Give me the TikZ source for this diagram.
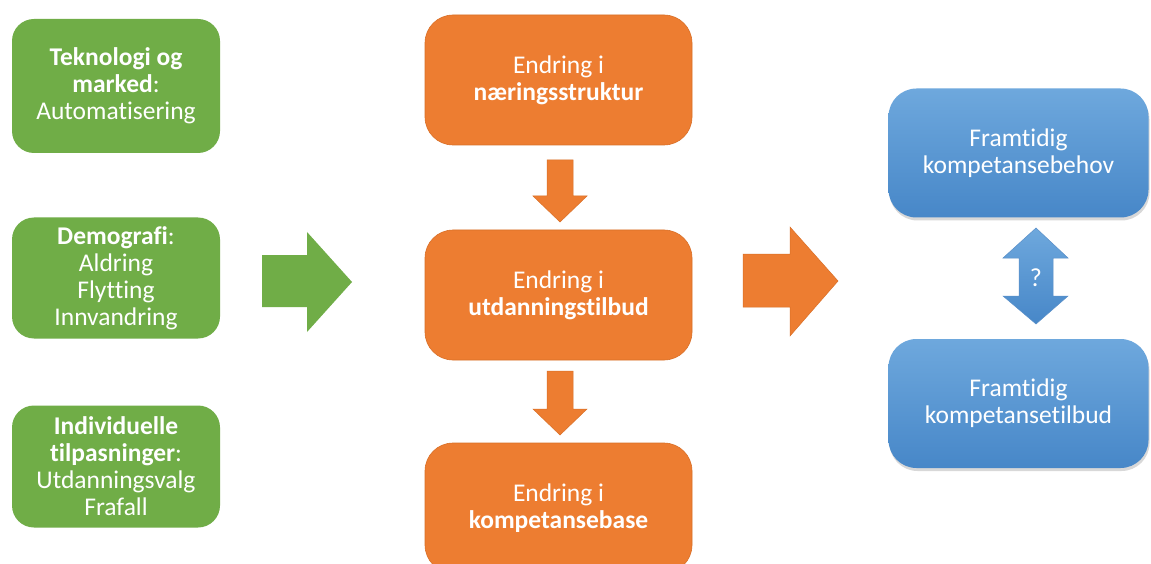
\documentclass[tikz,border=0pt]{standalone}
\usepackage{fontspec}
\setmainfont[Ligatures=CommonOff]{Carlito}
\usetikzlibrary{shadows}
\definecolor{grn}{HTML}{70AD47}
\definecolor{org}{HTML}{ED7D31}
\definecolor{orgd}{HTML}{D96F27}
\definecolor{bluet}{HTML}{6EA8DD}
\definecolor{blueb}{HTML}{4787C8}
\definecolor{blued}{HTML}{5A8FC8}
\begin{document}
\begin{tikzpicture}[x=1pt,y=-1pt,
  txt/.style={text=white, align=center, font=\fontsize{25.5}{27}\selectfont, inner sep=0pt},
  gbox/.style={txt, fill=grn, rounded corners=22pt, minimum width=208pt},
  obox/.style={txt, fill=org, draw=orgd, line width=0.6pt, rounded corners=28pt, minimum width=267pt, minimum height=130pt},
  bbox/.style={txt, top color=bluet, bottom color=blueb, rounded corners=28pt, minimum width=260pt, minimum height=129pt,
     drop shadow={shadow xshift=1pt, shadow yshift=-3pt, opacity=0.25, fill=black!60}},
  garrow/.style={fill=grn},
  oarrow/.style={fill=org, draw=orgd, line width=0.5pt},
  barrow/.style={top color=bluet, bottom color=blueb, draw=blued, line width=0.5pt}
]
\useasboundingbox (0,0) rectangle (1151,564);
\fill[white] (0,0) rectangle (1151,564);

% green boxes
\node[gbox, minimum height=134pt] (g1) at (116,86) {\textbf{Teknologi og}\\\textbf{marked}:\\Automatisering};
\node[gbox, minimum height=121pt] (g2) at (116,278) {\textbf{Demografi}:\\Aldring\\Flytting\\Innvandring};
\node[gbox, minimum height=122pt] (g3) at (116,466.5) {\textbf{Individuelle}\\\textbf{tilpasninger}:\\Utdanningsvalg\\Frafall};

% orange boxes
\node[obox] (o1) at (558.5,80) {Endring i\\\textbf{næringsstruktur}};
\node[obox] (o2) at (558.5,295) {Endring i\\\textbf{utdanningstilbud}};
\node[obox] (o3) at (558.5,508) {Endring i\\\textbf{kompetansebase}};

% blue boxes
\node[bbox] (b1) at (1018.5,153) {Framtidig\\kompetansebehov};
\node[bbox] (b2) at (1018.5,403.5) {Framtidig\\kompetansetilbud};

% green block arrow
\path[garrow] (262,255) -- (307,255) -- (307,232) -- (352,282) -- (307,332) -- (307,307) -- (262,307) -- cycle;

% orange down arrows
\path[oarrow] (547,160) -- (573,160) -- (573,196) -- (587,196) -- (560,222) -- (533,196) -- (547,196) -- cycle;
\path[oarrow] (547,371) -- (573,371) -- (573,409) -- (587,409) -- (560,435) -- (533,409) -- (547,409) -- cycle;

% orange right arrow
\path[oarrow] (743,254) -- (790,254) -- (790,227) -- (838,281) -- (790,336) -- (790,307) -- (743,307) -- cycle;

% blue double arrow
\path[barrow] (1036,228) -- (1068,258) -- (1053,258) -- (1053,296) -- (1068,296) -- (1036,324)
  -- (1003,296) -- (1019,296) -- (1019,258) -- (1003,258) -- cycle;
\node[text=white, font=\fontsize{26}{28}\selectfont] (q) at (1036,278) {?};
\end{tikzpicture}
\end{document}
